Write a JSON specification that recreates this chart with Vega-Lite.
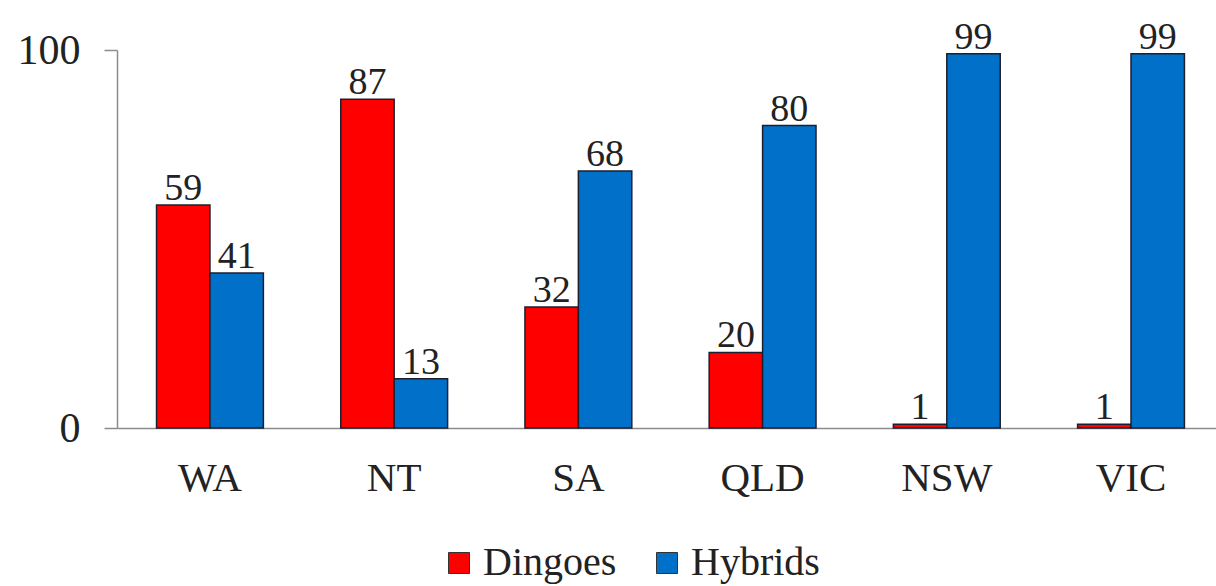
{
  "$schema": "https://vega.github.io/schema/vega-lite/v6.json",
  "width": 1099,
  "height": 378,
  "autosize": {"type": "none"},
  "padding": {"left": 117, "top": 50, "right": 0, "bottom": 158},
  "background": "white",
  "config": {
    "view": {"stroke": null},
    "font": "Liberation Serif",
    "style": {"guide-label": {"font": "Liberation Serif"}, "guide-title": {"font": "Liberation Serif"}},
    "legend": {"labelFont": "Liberation Serif", "titleFont": "Liberation Serif"}
  },
  "data": {
    "values": [
      {"state": "WA", "type": "Dingoes", "value": 59},
      {"state": "WA", "type": "Hybrids", "value": 41},
      {"state": "NT", "type": "Dingoes", "value": 87},
      {"state": "NT", "type": "Hybrids", "value": 13},
      {"state": "SA", "type": "Dingoes", "value": 32},
      {"state": "SA", "type": "Hybrids", "value": 68},
      {"state": "QLD", "type": "Dingoes", "value": 20},
      {"state": "QLD", "type": "Hybrids", "value": 80},
      {"state": "NSW", "type": "Dingoes", "value": 1},
      {"state": "NSW", "type": "Hybrids", "value": 99},
      {"state": "VIC", "type": "Dingoes", "value": 1},
      {"state": "VIC", "type": "Hybrids", "value": 99}
    ]
  },
  "encoding": {
    "x": {
      "field": "state",
      "type": "nominal",
      "sort": ["WA", "NT", "SA", "QLD", "NSW", "VIC"],
      "scale": {"paddingInner": 0.42, "paddingOuter": 0.193, "align": 0.556},
      "axis": {
        "title": null,
        "ticks": false,
        "labelAngle": 0,
        "labelPadding": 30,
        "labelFontSize": 41,
        "labelFont": "Liberation Serif",
        "labelColor": "#222222",
        "domainColor": "#8c8c8c",
        "domainWidth": 1.5,
        "grid": false
      }
    },
    "xOffset": {"field": "type", "sort": ["Dingoes", "Hybrids"]},
    "y": {
      "field": "value",
      "type": "quantitative",
      "scale": {"domain": [0, 100]},
      "axis": {
        "title": null,
        "values": [0, 100],
        "grid": false,
        "tickSize": 13,
        "tickColor": "#8c8c8c",
        "tickWidth": 1.5,
        "domainColor": "#8c8c8c",
        "domainWidth": 1.5,
        "labelPadding": 24,
        "labelFontSize": 42,
        "labelFont": "Liberation Serif",
        "labelColor": "#222222"
      }
    }
  },
  "layer": [
    {
      "mark": {"type": "bar", "stroke": "#1c1f2e", "strokeWidth": 1.5},
      "encoding": {
        "color": {
          "field": "type",
          "type": "nominal",
          "scale": {"domain": ["Dingoes", "Hybrids"], "range": ["#FF0000", "#0070C8"]},
          "legend": {
            "title": null,
            "orient": "none",
            "legendX": 322,
            "legendY": 493,
            "direction": "horizontal",
            "symbolType": "square",
            "symbolSize": 441,
            "symbolStrokeColor": "#333333",
            "symbolStrokeWidth": 1,
            "labelFontSize": 40,
            "labelFont": "Liberation Serif",
            "labelColor": "#222222",
            "labelOffset": 4,
            "columnPadding": 30,
            "padding": 0,
            "labelLimit": 400
          }
        }
      }
    },
    {
      "mark": {"type": "text", "baseline": "alphabetic", "dy": -5, "fontSize": 38, "font": "Liberation Serif", "color": "#222222"},
      "encoding": {"text": {"field": "value", "type": "quantitative"}}
    }
  ]
}
